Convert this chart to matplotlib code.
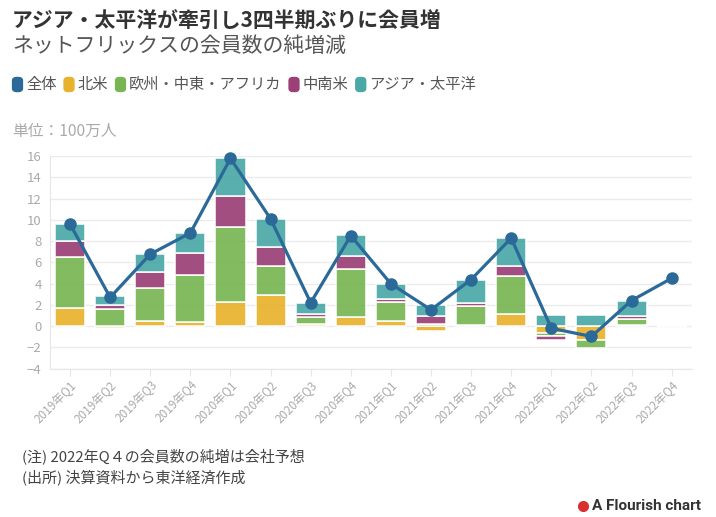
import numpy as np
import matplotlib
matplotlib.use("Agg")
import matplotlib.pyplot as plt
from matplotlib.patches import FancyBboxPatch
from matplotlib.lines import Line2D

plt.rcParams["font.family"] = ["Noto Sans CJK JP", "DejaVu Sans"]

quarters = ["2019年Q1", "2019年Q2", "2019年Q3", "2019年Q4",
            "2020年Q1", "2020年Q2", "2020年Q3", "2020年Q4",
            "2021年Q1", "2021年Q2", "2021年Q3", "2021年Q4",
            "2022年Q1", "2022年Q2", "2022年Q3", "2022年Q4"]

# 単位: 100万人 (2022Q4 は全体の会社予想のみ)
total = [9.60, 2.70, 6.77, 8.76, 15.77, 10.09, 2.20, 8.51,
         3.98, 1.54, 4.38, 8.28, -0.20, -0.97, 2.41, 4.50]
north_america = [1.74, -0.13, 0.52, 0.42, 2.31, 2.94, 0.18, 0.86,
                 0.45, -0.43, 0.07, 1.19, -0.64, -1.30, 0.10, 0]
emea = [4.72, 1.60, 3.06, 4.43, 6.98, 2.76, 0.68, 4.50,
        1.81, 0.19, 1.80, 3.54, -0.30, -0.77, 0.57, 0]
latam = [1.54, 0.38, 1.49, 2.03, 2.94, 1.71, 0.27, 1.24,
         0.33, 0.76, 0.27, 0.94, -0.35, 0.01, 0.31, 0]
apac = [1.60, 0.85, 1.70, 1.88, 3.60, 2.69, 1.07, 2.00,
        1.38, 1.02, 2.18, 2.58, 1.09, 1.08, 1.43, 0]

series = [("北米", north_america, "#e8b22c"),
          ("欧州・中東・アフリカ", emea, "#79b553"),
          ("中南米", latam, "#9b3f76"),
          ("アジア・太平洋", apac, "#4aa8a7")]
line_color = "#2b6a98"

fig = plt.figure(figsize=(7.16, 5.17), dpi=100)
ax = fig.add_axes([50 / 716, 1 - 368.7 / 517, 641.7 / 716, 212.7 / 517])

x = np.arange(len(quarters))
pos_base = np.zeros(len(x))
neg_base = np.zeros(len(x))
for name, vals, col in series:
    v = np.array(vals, dtype=float)
    base = np.where(v >= 0, pos_base, neg_base)
    ax.bar(x, v, bottom=base, width=0.75, color=col, alpha=0.92,
           edgecolor="white", linewidth=1.2, zorder=2)
    pos_base = pos_base + np.where(v > 0, v, 0)
    neg_base = neg_base + np.where(v < 0, v, 0)

ax.plot(x, total, color=line_color, lw=2.3, marker="o", ms=8, zorder=3,
        clip_on=False)

ax.set_xlim(-0.5, 15.5)
ax.set_ylim(-4, 16)
ax.set_yticks(range(-4, 17, 2))
ax.grid(axis="y", color="#ebebeb", lw=1, zorder=0)
for s in ["top", "right"]:
    ax.spines[s].set_visible(False)
ax.spines["left"].set_color("#e6e6e6")
ax.spines["bottom"].set_color("#e6e6e6")
ax.tick_params(axis="y", length=0, colors="#aaaaaa", labelsize=9.5, pad=6)
ax.tick_params(axis="x", length=5, color="#e6e6e6", colors="#aaaaaa",
               labelsize=8.5, pad=2)
ax.set_xticks(x)
ax.set_xticklabels(quarters, rotation=45, ha="right", rotation_mode="anchor")

fig.text(12 / 716, 1 - 21 / 517, "アジア・太平洋が牽引し3四半期ぶりに会員増",
         fontsize=15, fontweight="bold", color="#333333", va="center")
fig.text(12 / 716, 1 - 46 / 517, "ネットフリックスの会員数の純増減",
         fontsize=15, color="#555555", va="center")

# legend
lx = 14
legend_items = [("全体", line_color)] + [(n, c) for n, _, c in series]
for name, col in legend_items:
    fig.patches.append(FancyBboxPatch((lx / 716, 1 - 90.5 / 517), 7 / 716, 12 / 517,
                                      boxstyle="round,pad=0.002,rounding_size=0.006",
                                      transform=fig.transFigure, color=col))
    t = fig.text((lx + 12) / 716, 1 - 84.5 / 517, name, fontsize=11,
                 color="#555555", va="center")
    fig.canvas.draw()
    bb = t.get_window_extent()
    lx = bb.x1 + 9

fig.text(12 / 716, 1 - 131 / 517, "単位：100万人", fontsize=11.3,
         color="#aaaaaa", va="center")

fig.text(22 / 716, 1 - 457 / 517, "(注) 2022年Q４の会員数の純増は会社予想",
         fontsize=10.8, color="#444444", va="center")
fig.text(22 / 716, 1 - 477 / 517, "(出所) 決算資料から東洋経済作成",
         fontsize=10.8, color="#444444", va="center")

fig.add_artist(Line2D([583 / 716], [1 - 506 / 517], marker="o", ms=7,
                      color="#d8302f", transform=fig.transFigure))
fig.text(592 / 716, 1 - 506 / 517, "A Flourish chart", fontsize=11,
         fontweight="bold", color="#333333", va="center",
         family=["Roboto", "DejaVu Sans"])

fig.savefig("out.png", dpi=100)
